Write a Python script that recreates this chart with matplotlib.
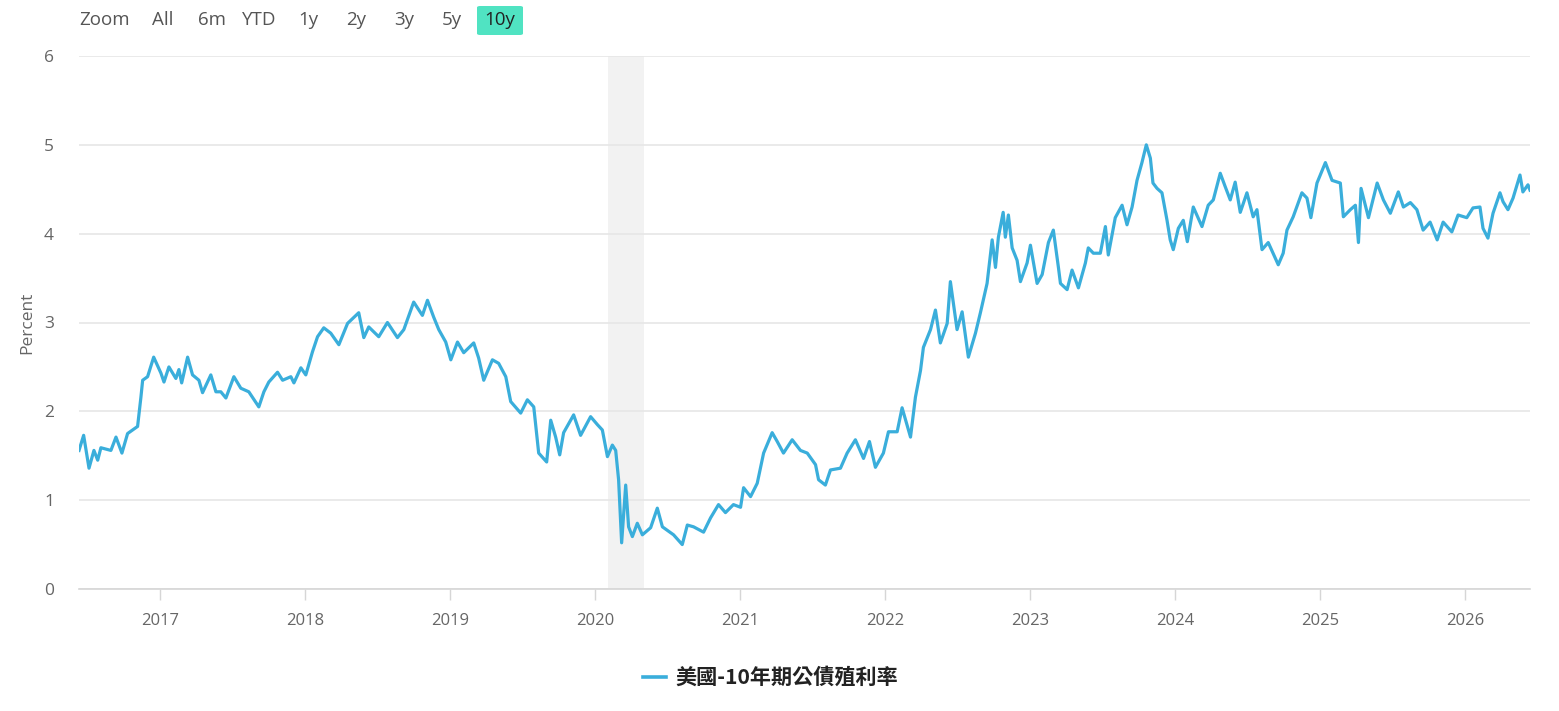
import matplotlib
matplotlib.use("Agg")
import matplotlib.pyplot as plt
import numpy as np

# dates as decimal years, yield in percent
dates = [
    2016.442, 2016.474, 2016.511, 2016.545, 2016.571, 2016.593, 2016.662, 2016.697, 2016.738, 2016.777,
    2016.812, 2016.846, 2016.869, 2016.881, 2016.915, 2016.957, 2017.007, 2017.028, 2017.062, 2017.110,
    2017.131, 2017.150, 2017.191, 2017.225, 2017.269, 2017.294, 2017.351, 2017.386, 2017.420, 2017.455,
    2017.510, 2017.558, 2017.613, 2017.682, 2017.717, 2017.751, 2017.811, 2017.846, 2017.903, 2017.924,
    2017.972, 2018.006, 2018.052, 2018.087, 2018.130, 2018.178, 2018.234, 2018.294, 2018.371, 2018.406,
    2018.440, 2018.509, 2018.569, 2018.638, 2018.682, 2018.750, 2018.810, 2018.845, 2018.888, 2018.923,
    2018.971, 2019.006, 2019.052, 2019.095, 2019.164, 2019.198, 2019.233, 2019.293, 2019.336, 2019.385,
    2019.419, 2019.488, 2019.534, 2019.578, 2019.612, 2019.667, 2019.695, 2019.729, 2019.757, 2019.784,
    2019.853, 2019.901, 2019.970, 2020.017, 2020.051, 2020.086, 2020.120, 2020.143, 2020.163, 2020.184,
    2020.212, 2020.232, 2020.258, 2020.292, 2020.327, 2020.384, 2020.430, 2020.465, 2020.542, 2020.602,
    2020.637, 2020.680, 2020.749, 2020.797, 2020.852, 2020.900, 2020.955, 2021.004, 2021.025, 2021.073,
    2021.119, 2021.163, 2021.222, 2021.257, 2021.300, 2021.360, 2021.417, 2021.464, 2021.521, 2021.542,
    2021.589, 2021.624, 2021.693, 2021.739, 2021.796, 2021.852, 2021.893, 2021.934, 2021.989, 2022.024,
    2022.084, 2022.118, 2022.176, 2022.210, 2022.245, 2022.265, 2022.314, 2022.348, 2022.382, 2022.429,
    2022.451, 2022.497, 2022.532, 2022.575, 2022.624, 2022.658, 2022.704, 2022.739, 2022.762, 2022.782,
    2022.815, 2022.830, 2022.851, 2022.877, 2022.911, 2022.934, 2022.980, 2023.003, 2023.049, 2023.084,
    2023.127, 2023.161, 2023.196, 2023.210, 2023.256, 2023.290, 2023.334, 2023.382, 2023.402, 2023.437,
    2023.485, 2023.520, 2023.540, 2023.588, 2023.635, 2023.669, 2023.704, 2023.738, 2023.772, 2023.802,
    2023.830, 2023.848, 2023.876, 2023.910, 2023.945, 2023.967, 2023.988, 2024.023, 2024.057, 2024.085,
    2024.126, 2024.186, 2024.229, 2024.264, 2024.312, 2024.346, 2024.381, 2024.415, 2024.450, 2024.496,
    2024.539, 2024.565, 2024.600, 2024.643, 2024.712, 2024.746, 2024.772, 2024.815, 2024.875, 2024.910,
    2024.937, 2024.979, 2025.037, 2025.083, 2025.140, 2025.161, 2025.209, 2025.244, 2025.265, 2025.283,
    2025.334, 2025.394, 2025.437, 2025.485, 2025.540, 2025.575, 2025.623, 2025.668, 2025.711, 2025.759,
    2025.808, 2025.849, 2025.909, 2025.952, 2026.012, 2026.055, 2026.103, 2026.124, 2026.158, 2026.193,
    2026.241, 2026.262, 2026.296, 2026.331, 2026.379, 2026.399, 2026.434, 2026.448,
]
yields = [
    1.56, 1.73, 1.36, 1.56, 1.45, 1.59, 1.56, 1.71, 1.53, 1.75,
    1.79, 1.83, 2.16, 2.35, 2.39, 2.61, 2.43, 2.33, 2.50, 2.37,
    2.47, 2.32, 2.61, 2.41, 2.35, 2.21, 2.41, 2.22, 2.22, 2.15,
    2.39, 2.26, 2.22, 2.05, 2.22, 2.33, 2.44, 2.35, 2.39, 2.32,
    2.49, 2.41, 2.67, 2.84, 2.94, 2.88, 2.75, 2.99, 3.11, 2.83,
    2.95, 2.84, 3.00, 2.83, 2.92, 3.23, 3.08, 3.25, 3.06, 2.92,
    2.78, 2.58, 2.78, 2.66, 2.77, 2.60, 2.35, 2.58, 2.54, 2.39,
    2.11, 1.98, 2.13, 2.05, 1.53, 1.43, 1.90, 1.71, 1.51, 1.76,
    1.96, 1.73, 1.94, 1.85, 1.79, 1.49, 1.62, 1.56, 1.23, 0.52,
    1.17, 0.70, 0.59, 0.74, 0.61, 0.69, 0.91, 0.70, 0.61, 0.50,
    0.72, 0.70, 0.64, 0.80, 0.95, 0.86, 0.95, 0.92, 1.14, 1.04,
    1.19, 1.53, 1.76, 1.66, 1.53, 1.68, 1.56, 1.53, 1.40, 1.23,
    1.17, 1.34, 1.36, 1.53, 1.68, 1.47, 1.66, 1.37, 1.53, 1.77,
    1.77, 2.04, 1.71, 2.16, 2.46, 2.72, 2.92, 3.14, 2.77, 2.99,
    3.46, 2.92, 3.12, 2.61, 2.88, 3.11, 3.44, 3.93, 3.62, 3.96,
    4.24, 3.96, 4.21, 3.84, 3.70, 3.46, 3.67, 3.87, 3.44, 3.54,
    3.90, 4.04, 3.62, 3.44, 3.37, 3.59, 3.39, 3.67, 3.84, 3.78,
    3.78, 4.08, 3.76, 4.18, 4.32, 4.10, 4.30, 4.60, 4.80, 5.00,
    4.85, 4.57, 4.51, 4.46, 4.15, 3.93, 3.82, 4.06, 4.15, 3.91,
    4.30, 4.08, 4.32, 4.38, 4.68, 4.53, 4.38, 4.58, 4.24, 4.46,
    4.19, 4.27, 3.82, 3.90, 3.65, 3.78, 4.04, 4.19, 4.46, 4.40,
    4.18, 4.57, 4.80, 4.60, 4.57, 4.19, 4.27, 4.32, 3.90, 4.51,
    4.18, 4.57, 4.38, 4.23, 4.47, 4.30, 4.35, 4.27, 4.04, 4.13,
    3.93, 4.13, 4.02, 4.21, 4.18, 4.29, 4.30, 4.06, 3.95, 4.23,
    4.46, 4.36, 4.27, 4.40, 4.66, 4.47, 4.55, 4.49,
]
recession_start = 2020.09
recession_end = 2020.335
years = list(range(2017, 2027))
y_ticks = [0, 1, 2, 3, 4, 5, 6]
buttons = ["All", "6m", "YTD", "1y", "2y", "3y", "5y", "10y"]
series_name = "美國-10年期公債殖利率"

W, H = 1559, 711
fig = plt.figure(figsize=(W / 100, H / 100), dpi=100)
ax = fig.add_axes([79 / W, 1 - 589 / H, (1530 - 79) / W, (589 - 56) / H])

line_col = "#3aaedb"
ax.axvspan(recession_start, recession_end, color="#f2f2f2", lw=0, zorder=0)
ax.plot(dates, yields, color=line_col, lw=2.3, solid_joinstyle="round", zorder=3)

ax.set_xlim(2016.442, 2026.448)
ax.set_ylim(0, 6)
ax.set_xticks(years)
ax.set_xticklabels([str(y) for y in years])
ax.set_yticks(y_ticks)
ax.set_yticklabels([str(v) for v in y_ticks])
ax.grid(axis="y", color="#e6e6e6", lw=1.2)
ax.set_axisbelow(True)
for s in ["top", "right", "left"]:
    ax.spines[s].set_visible(False)
ax.spines["bottom"].set_color("#d6d6d6")
ax.spines["bottom"].set_linewidth(1.2)
ax.tick_params(axis="x", length=8, width=1, color="#d6d6d6", pad=9,
               labelsize=12, labelcolor="#666666")
ax.tick_params(axis="y", length=0, pad=18, labelsize=12.5, labelcolor="#666666")
for lab in ax.get_xticklabels() + ax.get_yticklabels():
    lab.set_family("Open Sans")
ax.set_ylabel("Percent", fontsize=12.5, color="#666666", family="Open Sans", labelpad=6)

# range selector
fig.text(79 / W, 1 - 20 / H, "Zoom", fontsize=13.5, color="#555555", family="Open Sans",
         va="center", ha="left")
btn_x = [163, 212, 259, 308, 356, 404, 452, 500]
for name, bx in zip(buttons, btn_x):
    if name == "10y":
        fig.patches.append(matplotlib.patches.FancyBboxPatch(
            (477 / W, 1 - 35 / H), 46 / W, 29 / H, boxstyle="round,pad=0,rounding_size=0.002",
            transform=fig.transFigure, facecolor="#50e3c2", edgecolor="none"))
        col = "#222222"
    else:
        col = "#555555"
    fig.text(bx / W, 1 - 20 / H, name, fontsize=13.5, color=col, family="Open Sans",
             va="center", ha="center")

# legend
fig.lines.append(matplotlib.lines.Line2D([643 / W, 666 / W], [1 - 677 / H, 1 - 677 / H],
                                         transform=fig.transFigure, color=line_col, lw=2.6))
fig.text(675 / W, 1 - 677 / H, series_name, fontsize=15.2, fontweight="bold", color="#222222",
         family=["Noto Sans CJK TC", "DejaVu Sans"], va="center", ha="left")

fig.savefig("out.png", dpi=100, facecolor="white")
